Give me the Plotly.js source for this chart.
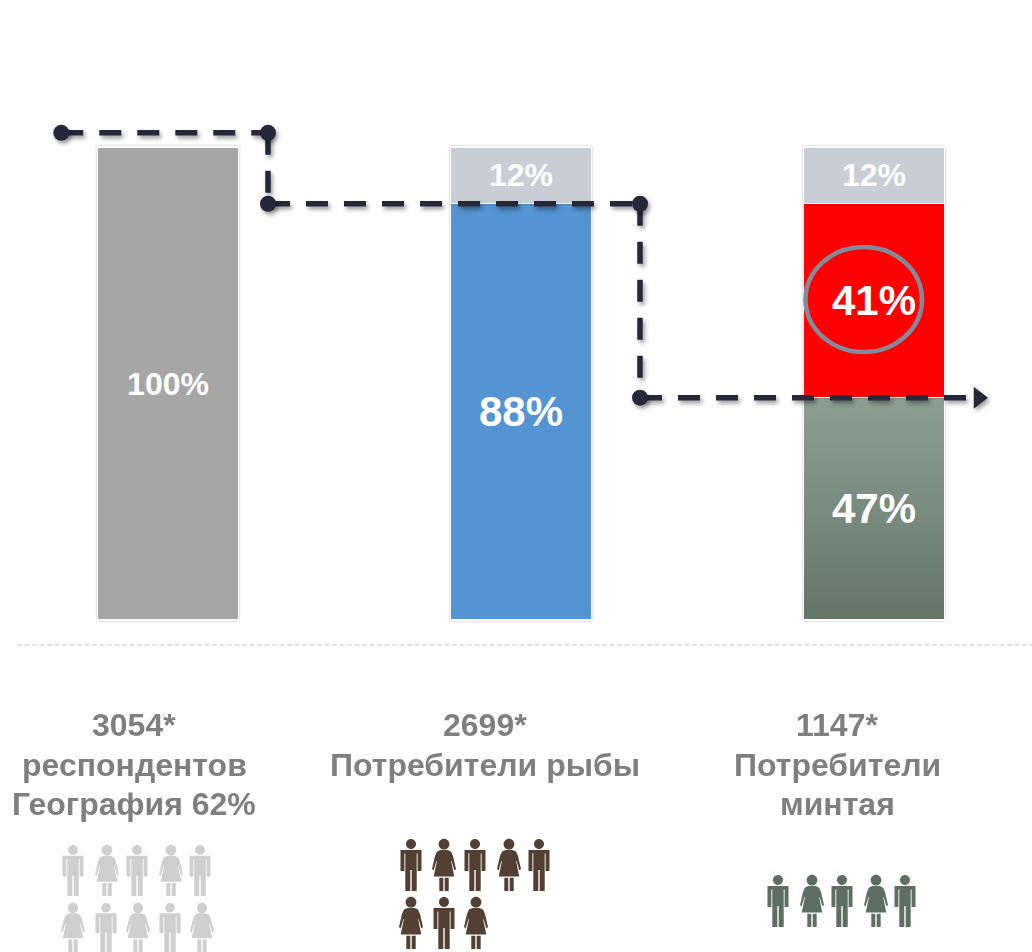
<!DOCTYPE html>
<html><head><meta charset="utf-8">
<script src="https://cdn.plot.ly/plotly-3.0.1.min.js"></script>
<style>html,body{margin:0;padding:0;background:#fff}#c{width:1032px;height:952px}</style>
</head><body><div id="c"></div>
<script>
// ---- data ----
const barPositions = [0, 1, 2];
const allRespondents = [100, null, null];
const fishEaters = [null, 88, null];
const otherFish = [null, null, 47];
const pollockEaters = [null, null, 41];
const nonConsumers = [null, 12, 12];

const stepLevels = [103, 88, 47];
const stepX = [-0.3023, 0.2833, 1.3371, 2.2790];
const arrowTipX = 2.2960;

const labelLines = [
  ['3054*', 'респондентов', 'География 62%'],
  ['2699*', 'Потребители рыбы'],
  ['1147*', 'Потребители', 'минтая']
];
const labelX = [134, 485, 837];
const labelY = [725, 765, 804];

const peopleGroups = [
  {color:'#cfcfcf', rows:[
    {top:845, h:51, kinds:['m','w','m','w','m'], xs:[73,107,137,171,200]},
    {top:903, h:49, kinds:['w','m','w','m','w'], xs:[73,106,138,170,202]}]},
  {color:'#524035', rows:[
    {top:839, h:52, kinds:['m','w','m','w','m'], xs:[411,444,475,509,539]},
    {top:897, h:52, kinds:['w','m','w'], xs:[411,444,476]}]},
  {color:'#5f6e63', rows:[
    {top:875, h:52, kinds:['m','w','m','w','m'], xs:[778,812,842,876,905]}]}
];

// ---- scales: one category step = 353px, 1% = 4.73px ----
const W = 1032, H = 952, PX = 353, PY = 4.73, X0 = 168, Y0 = 620;
const dx = p => (p - X0) / PX, dy = p => (Y0 - p) / PY;

function bar(vals, color, size, name) {
  return {type:'bar', x:barPositions, y:vals, name, width:0.4,
    marker:{color, line:{color:'#ffffff', width:1.2}},
    text:vals.map(v => v == null ? '' : v + '%'), textposition:'inside', insidetextanchor:'middle',
    textangle:0, constraintext:'none', cliponaxis:false,
    textfont:{family:'Liberation Sans, Arial, sans-serif', size, color:'#ffffff', weight:700}, hoverinfo:'skip'};
}
const traces = [
  bar(allRespondents, '#a6a6a6', 32, 'all'),
  bar(fishEaters, '#5494d2', 42, 'fish'),
  bar(otherFish, '#7a8a7e', 42, 'other'),
  bar(pollockEaters, '#ff0000', 42, 'pollock'),
  bar(nonConsumers, '#c9cdd6', 32, 'none')
];

const [a, b, c, d] = stepX, [l1, l2, l3] = stepLevels;
const dark = '#26283a';
traces.push({type:'scatter', mode:'lines', cliponaxis:false, hoverinfo:'skip', connectgaps:false,
  x:[a,b,null, b,b,null, b,c,null, c,c,null, c,d],
  y:[l1,l1,null, l1,l2,null, l2,l2,null, l2,l3,null, l3,l3],
  line:{color:dark, width:5.5, dash:'22px,16px'}});
traces.push({type:'scatter', mode:'markers', cliponaxis:false, hoverinfo:'skip',
  x:[a,b,b,c,c,arrowTipX], y:[l1,l1,l2,l2,l3,l3],
  marker:{color:dark, opacity:1, size:[16,16,16,16,16,19],
    symbol:['circle','circle','circle','circle','circle','triangle-right'], line:{width:0}}});

// ---- pictograms ----
function circ(r, cy) {
  const k = r * 0.5523;
  const f = (x, y) => x + ',' + y;
  return 'M' + f(0, cy - r) + 'C' + f(k, cy - r) + ' ' + f(r, cy - k) + ' ' + f(r, cy) +
    'C' + f(r, cy + k) + ' ' + f(k, cy + r) + ' ' + f(0, cy + r) +
    'C' + f(-k, cy + r) + ' ' + f(-r, cy + k) + ' ' + f(-r, cy) +
    'C' + f(-r, cy - k) + ' ' + f(-k, cy - r) + ' ' + f(0, cy - r) + 'Z';
}
function poly(pts) { return 'M' + pts.map(p => p.join(',')).join('L') + 'Z'; }
function manPath(s) {
  const p = [[-10.5,11],[10.5,11],[10.5,32],[6.6,32],[6.6,14.5],[5.7,14.5],[5.7,52],[0.7,52],[0.7,31],[-0.7,31],
             [-0.7,52],[-5.7,52],[-5.7,14.5],[-6.6,14.5],[-6.6,32],[-10.5,32]];
  return circ(5 * s, 5 * s) + poly(p.map(q => [q[0], q[1] * s]));
}
function womanPath(s) {
  const p = [[-3.5,11],[3.5,11],[7,12.5],[9,17],[12,30],[10.4,31.5],[7.6,22],[7.1,22],[10.3,37.5],[-10.3,37.5],
             [-7.1,22],[-7.6,22],[-10.4,31.5],[-12,30],[-9,17],[-7,12.5]];
  const l1 = [[-4.7,38.8],[-0.7,38.8],[-0.7,52],[-4.7,52]], l2 = [[0.7,38.8],[4.7,38.8],[4.7,52],[0.7,52]];
  const sc = a => a.map(q => [q[0], q[1] * s]);
  return circ(5.4 * s, 5.2 * s) + poly(sc(p)) + poly(sc(l1)) + poly(sc(l2));
}
function flip(path) { // y grows upward in pixel-sized shapes
  return path.replace(/(-?[\d.]+),(-?[\d.]+)/g, (m, x, y) => x + ',' + (-parseFloat(y)).toFixed(2));
}
const shapes = [];
peopleGroups.forEach(g => g.rows.forEach(r => r.xs.forEach((x, i) => {
  const s = r.h / 52;
  shapes.push({type:'path', xref:'paper', yref:'paper', xsizemode:'pixel', ysizemode:'pixel',
    xanchor:x / W, yanchor:1 - r.top / H, layer:'above',
    path:flip(r.kinds[i] === 'm' ? manPath(s) : womanPath(s)),
    fillcolor:g.color, line:{width:0}});
})));
shapes.push({type:'line', x0:dx(17), x1:dx(1032), y0:dy(645), y1:dy(645), layer:'below',
  line:{color:'#d9d9d9', width:1.5, dash:'5px,2.5px'}});
shapes.push({type:'circle', x0:dx(805.5), x1:dx(922), y0:dy(247), y1:dy(352), layer:'above',
  line:{color:'#828b9b', width:4.5}, fillcolor:'rgba(0,0,0,0)'});

// ---- labels ----
const annotations = [];
labelLines.forEach((lines, i) => lines.forEach((t, j) => annotations.push({
  text:t, x:dx(labelX[i]), y:dy(labelY[j]), xref:'x', yref:'y', showarrow:false,
  xanchor:'center', yanchor:'middle',
  font:{family:'Liberation Sans, Arial, sans-serif', size:32, color:'#7f7f7f', weight:700}})));

const layout = {
  width:W, height:H, margin:{l:0, r:0, t:0, b:0, pad:0}, showlegend:false,
  paper_bgcolor:'#ffffff', plot_bgcolor:'#ffffff', barmode:'stack', bargap:0,
  xaxis:{range:[dx(0), dx(W)], visible:false, fixedrange:true},
  yaxis:{range:[dy(H), dy(0)], visible:false, fixedrange:true},
  shapes, annotations
};

Plotly.newPlot('c', traces, layout, {staticPlot:true, displayModeBar:false}).then(gd => {
  const svg = gd.querySelector('svg.main-svg');
  const NS = 'http://www.w3.org/2000/svg';
  const defs = svg.querySelector('defs');
  const lg = document.createElementNS(NS, 'linearGradient');
  lg.setAttribute('id', 'fadeGreen');
  lg.setAttribute('x1', '0'); lg.setAttribute('y1', '0'); lg.setAttribute('x2', '0'); lg.setAttribute('y2', '1');
  [['0', '#8d9f92'], ['1', '#65756a']].forEach(s => {
    const st = document.createElementNS(NS, 'stop');
    st.setAttribute('offset', s[0]); st.setAttribute('stop-color', s[1]); lg.appendChild(st);
  });
  defs.appendChild(lg);
  const barTraces = gd.querySelectorAll('.barlayer .trace');
  barTraces.forEach(t => t.querySelectorAll('path').forEach(p => {
    p.style.filter = 'drop-shadow(0 0 1px rgba(0,0,0,.28))';
  }));
  barTraces[2].querySelectorAll('.point path').forEach(p => {
    if (p.getBBox().height > 0) p.style.fill = 'url(#fadeGreen)';
  });
  gd.querySelectorAll('.scatterlayer .trace').forEach(t => {
    t.style.filter = 'drop-shadow(2px 3px 2px rgba(0,0,0,.38))';
  });
});
</script>
</body></html>
